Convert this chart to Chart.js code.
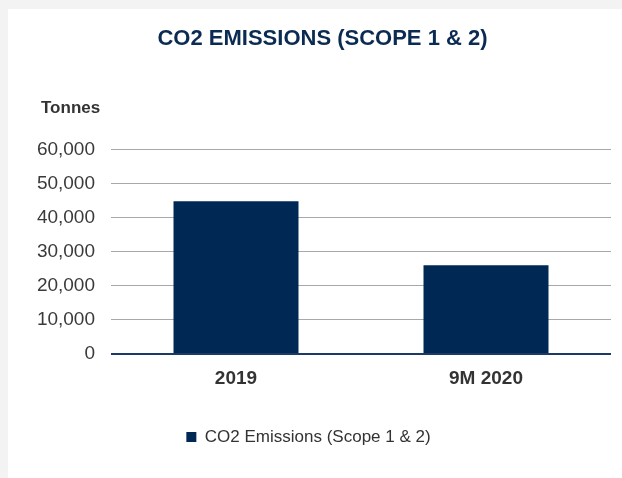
<!DOCTYPE html>
<html><head><meta charset="utf-8">
<script src="https://cdn.jsdelivr.net/npm/chart.js@4.4.1/dist/chart.umd.min.js"></script>
<style>
html,body{margin:0;padding:0;background:#f3f3f3;width:622px;height:478px;overflow:hidden}
#panel{position:absolute;left:8px;top:9px;width:614px;height:469px;background:#fff}
canvas{display:block}
</style></head><body>
<div id="panel"><canvas id="c" width="614" height="469"></canvas></div>
<script>
const categories = ['2019', '9M 2020'];
const emissions = [44800, 26000];
const seriesLabel = 'CO2 Emissions (Scope 1 & 2)';
const titleText = 'CO2 EMISSIONS (SCOPE 1 & 2)';
const unitLabel = 'Tonnes';
const yTicks = [0, 10000, 20000, 30000, 40000, 50000, 60000];

const FONT = '"Liberation Sans", Arial, sans-serif';
const NAVY = '#002855';
const TEXT = '#333333';

const unitPlugin = {
  id: 'unitLabel',
  afterDraw(chart) {
    const c = chart.ctx;
    c.save();
    c.font = 'bold 17px ' + FONT;
    c.fillStyle = TEXT;
    c.textAlign = 'left';
    c.textBaseline = 'middle';
    c.fillText(unitLabel, 33, chart.chartArea.top - 41);
    c.restore();
  }
};
const shiftPlugin = {
  id: 'shiftBlocks',
  afterLayout(chart) {
    if (chart.titleBlock) { chart.titleBlock.left += 3; chart.titleBlock.right += 3; }
    if (chart.legend) { chart.legend.left -= 11; chart.legend.right -= 11; }
  }
};

new Chart(document.getElementById('c'), {
  type: 'bar',
  data: {
    labels: categories,
    datasets: [{
      label: seriesLabel,
      data: emissions,
      backgroundColor: NAVY,
      borderWidth: 0,
      barPercentage: 0.5,
      categoryPercentage: 1.0
    }]
  },
  options: {
    responsive: false,
    animation: false,
    layout: { padding: { left: 20, right: 11, top: 0, bottom: 22.5 } },
    plugins: {
      title: {
        display: true,
        text: titleText,
        color: '#0b2b52',
        font: { family: FONT, size: 22, weight: 'bold' },
        padding: { top: 17, bottom: 97 }
      },
      legend: {
        display: true,
        position: 'bottom',
        labels: {
          color: TEXT,
          font: { family: FONT, size: 17 },
          boxWidth: 10,
          boxHeight: 10,
          padding: 10
        }
      },
      tooltip: { enabled: false }
    },
    scales: {
      x: {
        grid: { display: false, drawTicks: false },
        border: { display: false },
        ticks: { color: TEXT, font: { family: FONT, size: 19, weight: 'bold' }, padding: 13 },
        afterFit(s) { s.height = 64.5; }
      },
      y: {
        min: yTicks[0],
        max: yTicks[yTicks.length - 1],
        afterBuildTicks(s) { s.ticks = yTicks.map(v => ({ value: v })); },
        grid: {
          drawTicks: false,
          color: ctx => ctx.tick && ctx.tick.value === 0 ? '#1d3a66' : '#a8a8a8',
          lineWidth: ctx => ctx.tick && ctx.tick.value === 0 ? 2 : 1
        },
        border: { display: false },
        ticks: {
          color: '#3a3a3a',
          font: { family: FONT, size: 19 },
          padding: 16,
          callback: v => v.toLocaleString('en-US')
        },
        afterFit(s) { s.width = 83; }
      }
    }
  },
  plugins: [unitPlugin, shiftPlugin]
});
</script>
</body></html>
